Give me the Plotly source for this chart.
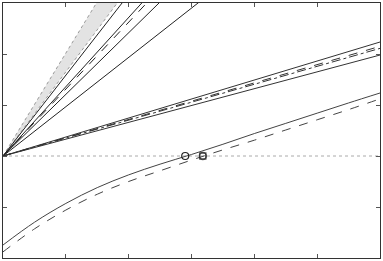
import plotly.graph_objects as go

# x grid for the curves
x_curve = [0, 0.5, 1, 1.5, 2, 2.5, 3, 3.5, 4, 4.5, 5, 5.5, 6]
solid_curve = [-1.745, -1.30, -0.93, -0.62, -0.37, -0.16, 0.03, 0.23, 0.44, 0.64, 0.84, 1.04, 1.235]
dashed_curve = [-1.88, -1.43, -1.06, -0.75, -0.50, -0.29, -0.08, 0.12, 0.31, 0.51, 0.71, 0.91, 1.12]

# straight rays from origin: value reached at x = 6
x_ray = [0, 6]
band_upper_end = 12.1
band_lower_end = 9.9
steep_ends = [9.5, 8.15, 7.87, 7.25, 5.8]
steep_dash = ["solid", "solid", "dash", "solid", "solid"]
bundle_ends = [2.235, 2.15, 2.11, 1.98]
bundle_dash = ["solid", "dash", "dashdot", "solid"]

# zero crossings
cross_solid = 2.9
cross_dashed = 3.18

fig = go.Figure()

# shaded band
fig.add_trace(go.Scatter(x=x_ray, y=[0, band_lower_end], mode="lines",
                         line=dict(color="#999999", width=1, dash="dot"), showlegend=False))
fig.add_trace(go.Scatter(x=x_ray, y=[0, band_upper_end], mode="lines", fill="tonexty",
                         fillcolor="#e3e3e3",
                         line=dict(color="#999999", width=1, dash="dot"), showlegend=False))

# zero line
fig.add_trace(go.Scatter(x=[0, 6], y=[0, 0], mode="lines",
                         line=dict(color="#aaaaaa", width=1, dash="dot"), showlegend=False))

for end, d in zip(steep_ends, steep_dash):
    fig.add_trace(go.Scatter(x=x_ray, y=[0, end], mode="lines",
                             line=dict(color="#222222", width=1, dash=d), showlegend=False))

for end, d in zip(bundle_ends, bundle_dash):
    fig.add_trace(go.Scatter(x=x_ray, y=[0, end], mode="lines",
                             line=dict(color="#333333", width=1, dash=d), showlegend=False))

fig.add_trace(go.Scatter(x=x_curve, y=solid_curve, mode="lines",
                         line=dict(color="#444444", width=1, shape="spline"), showlegend=False))
fig.add_trace(go.Scatter(x=x_curve, y=dashed_curve, mode="lines",
                         line=dict(color="#444444", width=1, dash="dash", shape="spline"),
                         showlegend=False))

fig.add_trace(go.Scatter(x=[cross_solid], y=[0], mode="markers",
                         marker=dict(symbol="circle-open", size=7, color="#222222",
                                     line=dict(width=1.2)), showlegend=False))
fig.add_trace(go.Scatter(x=[cross_dashed, cross_dashed], y=[0, 0], mode="markers",
                         marker=dict(symbol=["circle-open", "square-open"], size=[7, 6], color="#222222",
                                     line=dict(width=1.5)), showlegend=False))

axis_common = dict(showgrid=False, zeroline=False, showticklabels=False,
                   ticks="inside", ticklen=4, tickcolor="#555555", tickwidth=1,
                   showline=True, linecolor="#333333", linewidth=1, mirror="ticks",
                   automargin=False)

fig.update_xaxes(range=[0, 6], tickvals=[1, 2, 3, 4, 5], **axis_common)
fig.update_yaxes(range=[-2, 3], tickvals=[-1, 0, 1, 2], **axis_common)

fig.update_layout(width=383, height=261, autosize=False,
                  margin=dict(l=3, r=3, t=3, b=3, pad=0, autoexpand=False),
                  plot_bgcolor="white", paper_bgcolor="white")

fig.write_html("out.html", config={"responsive": False, "displayModeBar": False},
               default_width="383px", default_height="261px",
               post_script="document.body.style.margin='0';document.body.style.overflow='hidden';")
